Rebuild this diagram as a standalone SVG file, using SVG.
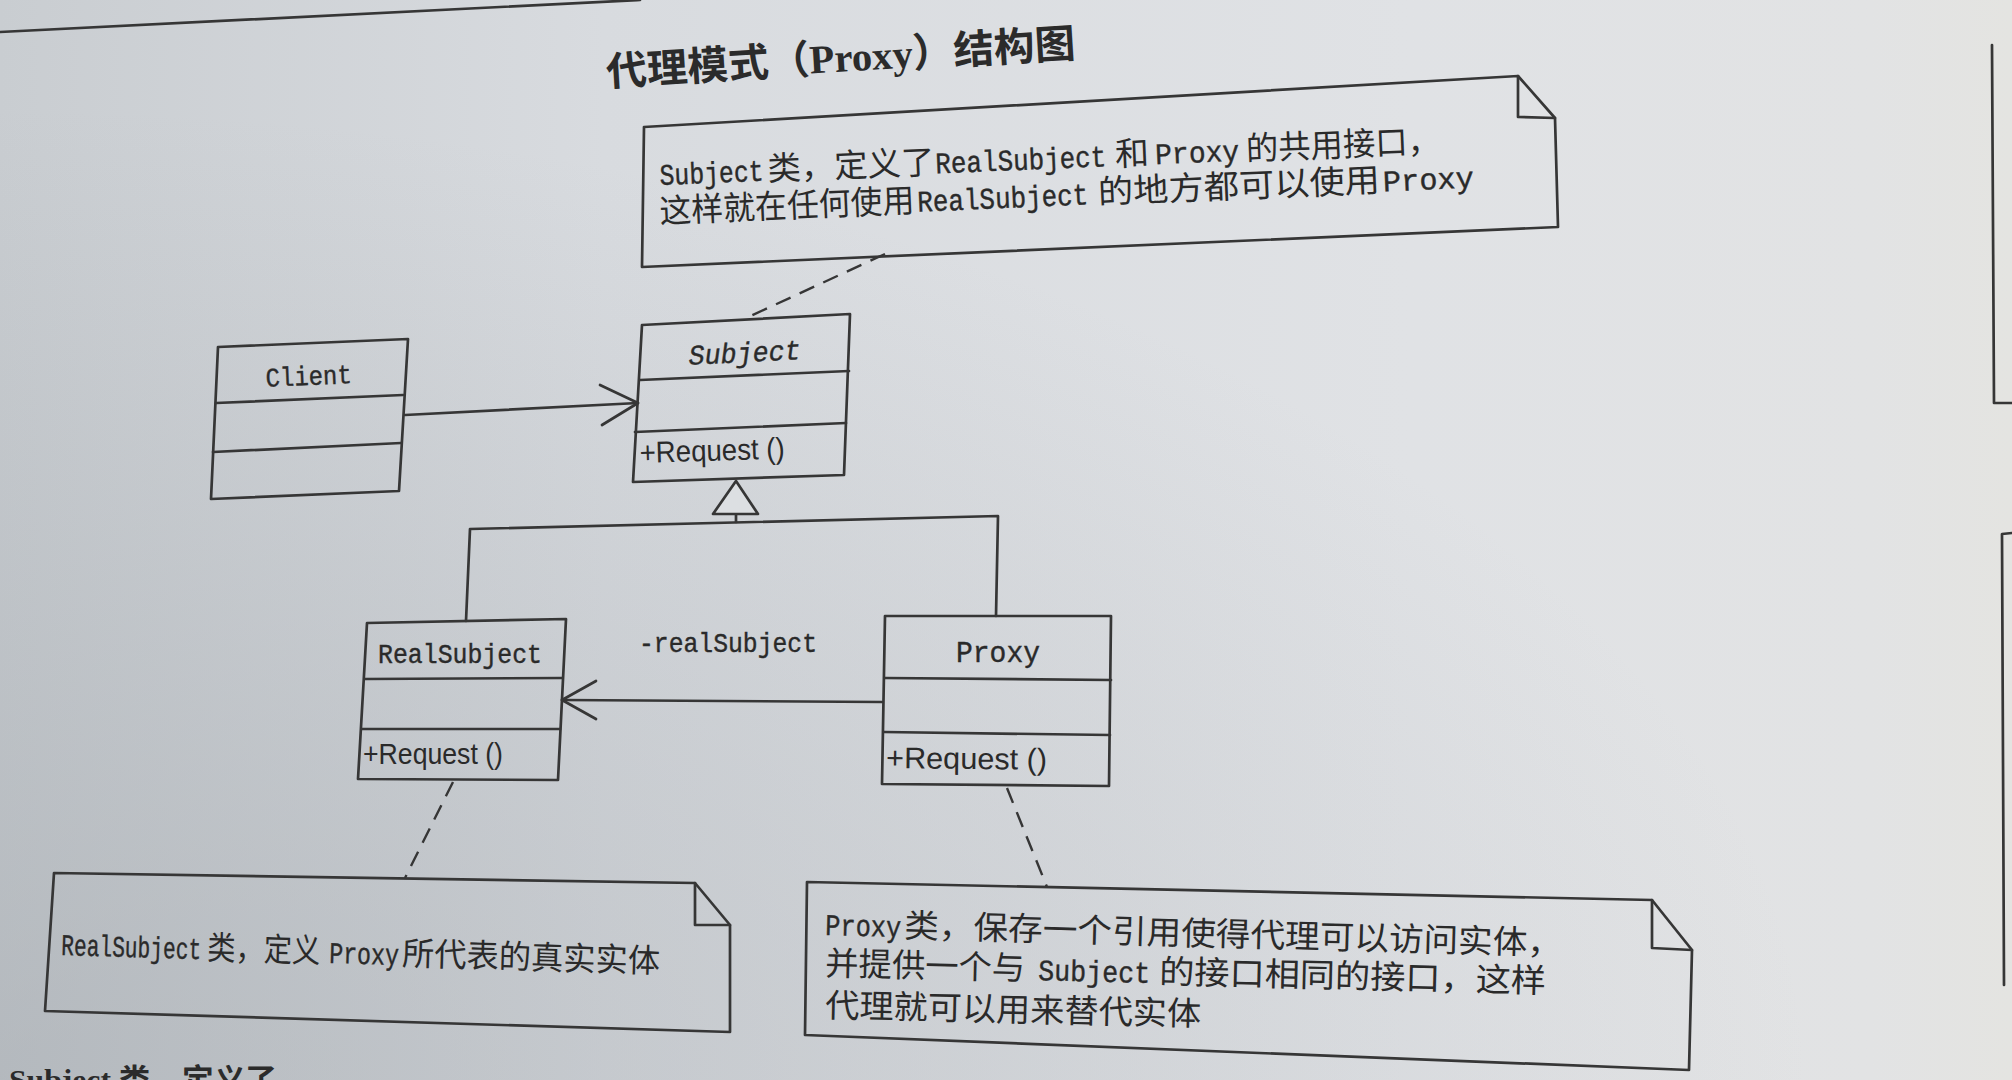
<svg xmlns="http://www.w3.org/2000/svg" width="2012" height="1080" viewBox="0 0 2012 1080">
<defs>
<linearGradient id="bg" x1="0" y1="0" x2="1" y2="0">
<stop offset="0" stop-color="#c9cdd1"/>
<stop offset="0.3" stop-color="#d8dbdf"/>
<stop offset="0.7" stop-color="#e0e2e5"/>
<stop offset="0.93" stop-color="#e2e3e4"/>
<stop offset="1" stop-color="#e4e4e1"/>
</linearGradient>
<radialGradient id="shade" cx="0" cy="1" r="0.9">
<stop offset="0" stop-color="#9aa0a6" stop-opacity="0.45"/>
<stop offset="1" stop-color="#9aa0a6" stop-opacity="0"/>
</radialGradient>
<style>
.ln{fill:none;stroke:#363636;stroke-width:2.7;stroke-linejoin:round;stroke-linecap:round}
.box{fill:none;stroke:#363636;stroke-width:2.7;stroke-linejoin:round}
.dash{fill:none;stroke:#363636;stroke-width:2.4;stroke-dasharray:16 10}
.tri{fill:#dcdfe2;stroke:#363636;stroke-width:2.7;stroke-linejoin:round}
.mono{font-family:"Liberation Mono","DejaVu Sans Mono",monospace;fill:#2a2a2a;stroke:#2a2a2a;stroke-width:0.4}
.cond{font-family:"Liberation Sans","Noto Sans",sans-serif;fill:#2a2a2a}
.cjk{font-family:"Noto Sans CJK SC",sans-serif;fill:#2a2a2a;font-size:33px}
.lat{font-family:"Liberation Mono",monospace;font-size:30px;fill:#2a2a2a;stroke:#2a2a2a;stroke-width:0.4}
.title{font-family:"Liberation Serif","Noto Sans CJK SC",serif;fill:#2b2b2b;font-size:40px;font-weight:bold}
</style>
</defs>
<rect width="2012" height="1080" fill="url(#bg)"/>
<rect width="2012" height="1080" fill="url(#shade)"/>

<g id="page-edges">
<path class="ln" d="M0,32 C200,22 420,10 640,0" stroke-width="3"/>
<path class="ln" d="M1992,45 L1994,403 L2012,403" stroke-width="2.4"/>
<path class="ln" d="M2012,533 L2002,534 L2004,985" stroke-width="2.4"/>
</g>

<g id="title">
<text class="title" x="607" y="86" transform="rotate(-3.5 607 86)" textLength="470" lengthAdjust="spacingAndGlyphs">代理模式（Proxy）结构图</text>
</g>

<g id="connectors">
<path class="ln" d="M405,415 L638,403"/>
<path class="ln" d="M600,385 L638,403 L602,425"/>
<path class="ln" d="M466,621 L470,529 L998,516 L996,616"/>
<path class="ln" d="M736,522 L736,514"/>
<polygon class="tri" points="736,481 713,514 758,514"/>
<path class="ln" d="M882,702 L562,700"/>
<path class="ln" d="M596,681 L562,700 L596,719"/>
<text class="mono" x="728" y="652" font-size="28" text-anchor="middle" textLength="178" lengthAdjust="spacingAndGlyphs">-realSubject</text>
<path class="dash" d="M885,254 L744,319"/>
<path class="dash" d="M453,782 L405,878"/>
<path class="dash" d="M1007,788 L1047,887"/>
</g>

<g id="client">
<polygon class="box" points="218,347 408,339 399,491 211,499"/>
<path class="ln" d="M216,403 L403,395 M213,452 L401,443"/>
<text class="mono" x="309" y="385" font-size="27" text-anchor="middle" textLength="86" lengthAdjust="spacingAndGlyphs" transform="rotate(-2.4 309 385)">Client</text>
</g>

<g id="subject">
<polygon class="box" points="642,325 850,314 844,475 633,482"/>
<path class="ln" d="M640,380 L849,371 M635,432 L846,423"/>
<text class="mono" x="745" y="362" font-size="28" font-style="italic" text-anchor="middle" textLength="112" lengthAdjust="spacingAndGlyphs" transform="rotate(-2.8 745 362)">Subject</text>
<text class="cond" x="640" y="463" font-size="30" textLength="145" lengthAdjust="spacingAndGlyphs" transform="rotate(-1.8 640 463)">+Request ()</text>
</g>

<g id="realsubject">
<polygon class="box" points="367,623 566,619 558,780 358,779"/>
<path class="ln" d="M365,679 L562,678 M362,729 L560,729"/>
<text class="mono" x="460" y="663" font-size="27" text-anchor="middle" textLength="164" lengthAdjust="spacingAndGlyphs">RealSubject</text>
<text class="cond" x="363" y="764" font-size="30" textLength="140" lengthAdjust="spacingAndGlyphs">+Request ()</text>
</g>

<g id="proxy">
<polygon class="box" points="885,616 1111,616 1109,786 882,784"/>
<path class="ln" d="M885,678 L1111,680 M884,732 L1110,735"/>
<text class="mono" x="998" y="662" font-size="29" text-anchor="middle" textLength="84" lengthAdjust="spacingAndGlyphs">Proxy</text>
<text class="cond" x="886" y="768" font-size="30" textLength="161" lengthAdjust="spacingAndGlyphs" transform="rotate(0.6 886 768)">+Request ()</text>
</g>

<g id="note-subject">
<polygon class="box" points="644,127 1518,76 1555,118 1558,227 642,267"/>
<path class="ln" d="M1518,76 L1518,117 L1555,118"/>
<g transform="translate(660,185) rotate(-2.4)">
<text class="lat" x="0" y="0" textLength="104" lengthAdjust="spacingAndGlyphs">Subject</text>
<text class="cjk" x="108" y="0" textLength="167" lengthAdjust="spacingAndGlyphs">类，定义了</text>
<text class="lat" x="276" y="0" textLength="171" lengthAdjust="spacingAndGlyphs">RealSubject</text>
<text class="cjk" x="456" y="0" textLength="34" lengthAdjust="spacingAndGlyphs">和</text>
<text class="lat" x="496" y="0" textLength="84" lengthAdjust="spacingAndGlyphs">Proxy</text>
<text class="cjk" x="587" y="0" textLength="194" lengthAdjust="spacingAndGlyphs">的共用接口，</text>
</g>
<g transform="translate(660,223) rotate(-2.5)">
<text class="cjk" x="0" y="0" textLength="255" lengthAdjust="spacingAndGlyphs">这样就在任何使用</text>
<text class="lat" x="258" y="0" textLength="171" lengthAdjust="spacingAndGlyphs">RealSubject</text>
<text class="cjk" x="439" y="0" textLength="282" lengthAdjust="spacingAndGlyphs">的地方都可以使用</text>
<text class="lat" x="724" y="0" textLength="91" lengthAdjust="spacingAndGlyphs">Proxy</text>
</g>
</g>

<g id="note-realsubject">
<polygon class="box" points="54,873 695,883 730,925 730,1032 45,1011"/>
<path class="ln" d="M695,883 L695,925 L730,925"/>
<g transform="translate(61,955) rotate(1.7)">
<text class="lat" x="0" y="0" textLength="140" lengthAdjust="spacingAndGlyphs">RealSubject</text>
<text class="cjk" x="146" y="0" textLength="113" lengthAdjust="spacingAndGlyphs">类，定义</text>
<text class="lat" x="268" y="0" textLength="70" lengthAdjust="spacingAndGlyphs">Proxy</text>
<text class="cjk" x="341" y="0" textLength="258" lengthAdjust="spacingAndGlyphs">所代表的真实实体</text>
</g>
</g>

<g id="note-proxy">
<polygon class="box" points="807,882 1652,900 1692,950 1689,1070 805,1035"/>
<path class="ln" d="M1652,900 L1652,948 L1692,950"/>
<g transform="translate(825,935) rotate(1.55)">
<text class="lat" x="0" y="0" textLength="76" lengthAdjust="spacingAndGlyphs">Proxy</text>
<text class="cjk" x="79" y="0" textLength="658" lengthAdjust="spacingAndGlyphs">类，保存一个引用使得代理可以访问实体，</text>
</g>
<g transform="translate(825,975) rotate(1.4)">
<text class="cjk" x="0" y="0" textLength="200" lengthAdjust="spacingAndGlyphs">并提供一个与</text>
<text class="lat" x="213" y="0" textLength="112" lengthAdjust="spacingAndGlyphs">Subject</text>
<text class="cjk" x="334" y="0" textLength="387" lengthAdjust="spacingAndGlyphs">的接口相同的接口，这样</text>
</g>
<g transform="translate(825,1017) rotate(1.3)">
<text class="cjk" x="0" y="0" textLength="376" lengthAdjust="spacingAndGlyphs">代理就可以用来替代实体</text>
</g>
</g>

<g id="footer-text">
<text x="9" y="1090" font-family="Liberation Serif, Noto Sans CJK SC, serif" font-weight="bold" font-size="30" fill="#2b2b2b" textLength="268" lengthAdjust="spacingAndGlyphs">Subject 类，定义了</text>
</g>
</svg>
